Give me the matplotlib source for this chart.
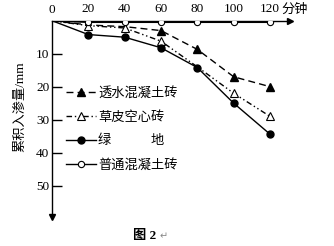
import matplotlib
matplotlib.use('Agg')
import matplotlib.pyplot as plt

plt.rcParams['font.family'] = ['Liberation Serif', 'Noto Sans CJK SC', 'DejaVu Sans']

# 时间(分钟) 与 累积入渗量(mm)
minutes = [0, 20, 40, 60, 80, 100, 120]
toushui = [0, 1.3, 1.8, 3.0, 8.7, 17, 20]      # 透水混凝土砖
caopi = [0, 1.5, 2.2, 6.2, 14, 22, 29]         # 草皮空心砖
lvdi = [0, 4.2, 5.0, 8.2, 14.2, 25, 34.4]      # 绿地
putong = [0, 0.5, 0.5, 0.5, 0.5, 0.5, 0.5]     # 普通混凝土砖

x_ticks = [20, 40, 60, 80, 100, 120]
y_ticks = [10, 20, 30, 40, 50]

labels = ['透水混凝土砖', '草皮空心砖', '绿\u3000\u3000\u3000地', '普通混凝土砖']

fig = plt.figure(figsize=(3.34, 2.46), dpi=100)
ax = fig.add_axes([52 / 334, 29 / 246, 238 / 334, 196.3 / 246])
ax.set_xlim(0, 131)
ax.set_ylim(59.5, 0)

lw = 1.0
ax.plot(minutes, putong, '-', color='black', lw=lw, marker='o', ms=4.5,
        mfc='white', mec='black', mew=0.8, markevery=[1, 2, 3, 4, 5, 6],
        label=labels[3], zorder=4)
ax.plot(minutes, toushui, color='black', lw=lw, ls=(0, (5, 3)), marker='^',
        ms=6, mfc='black', mec='black', markevery=[3, 4, 5, 6],
        label=labels[0], zorder=3)
ax.plot(minutes, caopi, color='black', lw=lw, ls=(0, (4, 2, 1, 2, 1, 2)),
        marker='^', ms=6, mfc='white', mec='black', mew=0.8,
        markevery=[1, 2, 3, 5, 6], label=labels[1], zorder=3)
ax.plot(minutes, lvdi, '-', color='black', lw=lw, marker='o', ms=5,
        mfc='black', mec='black', markevery=[1, 2, 3, 4, 5, 6],
        label=labels[2], zorder=5)

# 坐标轴（带箭头）
for s in ['right', 'bottom']:
    ax.spines[s].set_visible(False)
for s in ['top', 'left']:
    ax.spines[s].set_linewidth(1.0)
ax.plot(1, 1, '>', color='black', ms=5, transform=ax.transAxes, clip_on=False)
ax.plot(0, 0, 'v', color='black', ms=5, transform=ax.transAxes, clip_on=False)

ax.xaxis.tick_top()
ax.set_xticks(x_ticks)
ax.tick_params(axis='x', length=0, pad=4, labelsize=9.5)
ax.set_yticks(y_ticks)
ax.tick_params(axis='y', direction='in', length=7, width=1.0, pad=2,
               labelsize=9.5)
ax.text(0, -1.5, '0', ha='center', va='bottom', fontsize=9.5)
ax.text(126.5, -1.5, '分钟', ha='left', va='bottom', fontsize=9.5)
ax.set_ylabel('累积入渗量/mm', fontsize=9.5)
ax.yaxis.set_label_coords(-0.11, 0.56)

handles, labs = ax.get_legend_handles_labels()
order = [1, 2, 3, 0]
leg = ax.legend([handles[i] for i in order], [labs[i] for i in order],
                loc='upper left', bbox_to_anchor=(14 / 238, 1 - 66 / 196.3),
                frameon=False, fontsize=9.5, handlelength=2.3,
                handletextpad=0.15, labelspacing=0.85, borderpad=0,
                borderaxespad=0)

fig.text(133 / 334, 1 - 236 / 246, '图 2', ha='left', va='center',
         fontsize=9.5, fontweight='bold')
fig.text(160 / 334, 1 - 236 / 246, '↵', ha='left', va='center',
         fontsize=7, color='#888888', family=['DejaVu Sans'])

fig.savefig('out.png', dpi=100)
